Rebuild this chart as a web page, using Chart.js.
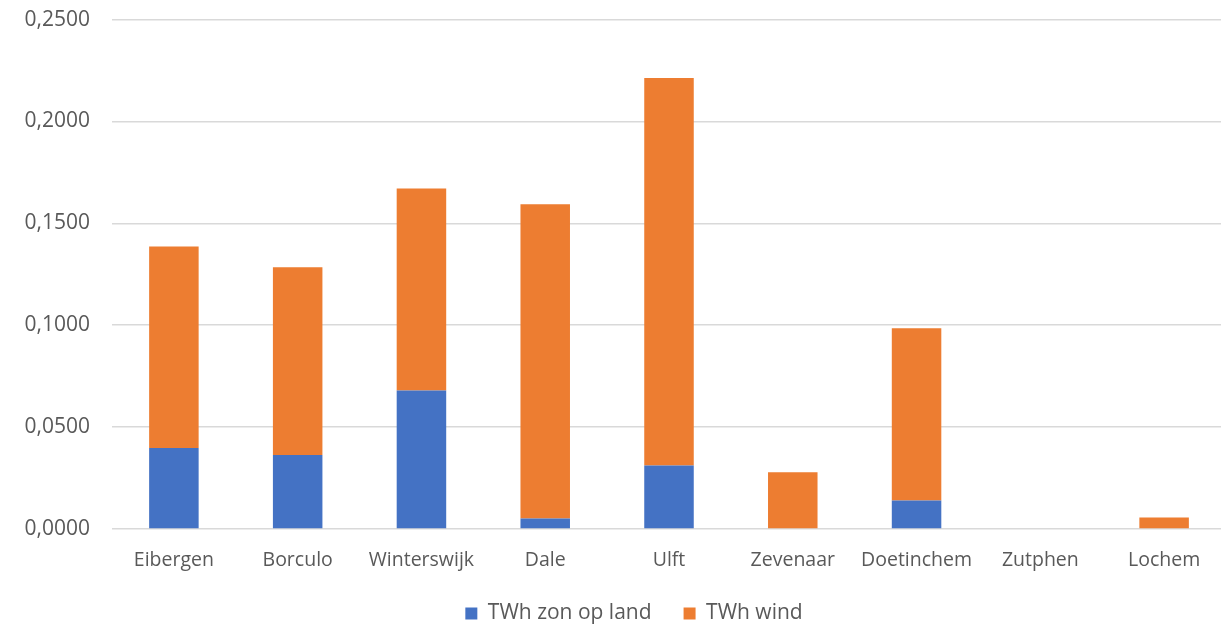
<!DOCTYPE html>
<html>
<head>
<meta charset="utf-8">
<script src="https://cdn.jsdelivr.net/npm/chart.js@4/dist/chart.umd.min.js"></script>
<style>
  html, body { margin: 0; padding: 0; background: #fff; overflow: hidden; }
  #wrap { width: 1226px; height: 653px; margin-top: -15px; }
</style>
</head>
<body>
<div id="wrap"><canvas id="chart"></canvas></div>
<script>
const categories = ["Eibergen", "Borculo", "Winterswijk", "Dale", "Ulft", "Zevenaar", "Doetinchem", "Zutphen", "Lochem"];
const zonOpLand = [0.0397, 0.0363, 0.0680, 0.0052, 0.0312, 0.0000, 0.0140, 0.0000, 0.0000];
const wind = [0.0989, 0.0921, 0.0991, 0.1542, 0.1902, 0.0279, 0.0845, 0.0000, 0.0056];
const seriesNames = ["TWh zon op land", "TWh wind"];

const textColor = "#595959";
const family = "'Open Sans', sans-serif";

// nudge the legend: a bit right of centre and a bit higher
const legendShift = {
  id: "legendShift",
  afterLayout(chart) {
    const lg = chart.legend;
    lg.left += 21;
    lg.right += 21;
    lg.top -= 4;
    lg.bottom -= 4;
  }
};

const ctx = document.getElementById("chart").getContext("2d");
new Chart(ctx, {
  type: "bar",
  data: {
    labels: categories,
    datasets: [
      { label: seriesNames[0], data: zonOpLand, backgroundColor: "#4472C4" },
      { label: seriesNames[1], data: wind, backgroundColor: "#ED7D31" }
    ]
  },
  plugins: [legendShift],
  options: {
    responsive: true,
    maintainAspectRatio: false,
    animation: false,
    barPercentage: 0.4,
    categoryPercentage: 1,
    layout: { padding: 0 },
    plugins: {
      tooltip: { enabled: false },
      legend: {
        position: "bottom",
        labels: {
          color: textColor,
          font: { family: family, size: 21 },
          boxWidth: 12,
          boxHeight: 12,
          padding: 32
        }
      }
    },
    scales: {
      x: {
        stacked: true,
        grid: { display: false },
        border: { display: false },
        afterFit: (scale) => { scale.height = 46; },
        ticks: { color: textColor, font: { family: family, size: 19.5 }, padding: 12 }
      },
      y: {
        stacked: true,
        min: 0,
        max: 0.25,
        border: { display: false },
        grid: { color: "#d9d9d9", lineWidth: 1.5, drawTicks: false },
        afterFit: (scale) => { scale.width = 112; },
        ticks: {
          stepSize: 0.05,
          color: textColor,
          font: { family: family, size: 21 },
          padding: 22,
          callback: (v) => v.toFixed(4).replace(".", ",")
        }
      }
    }
  }
});
</script>
</body>
</html>
